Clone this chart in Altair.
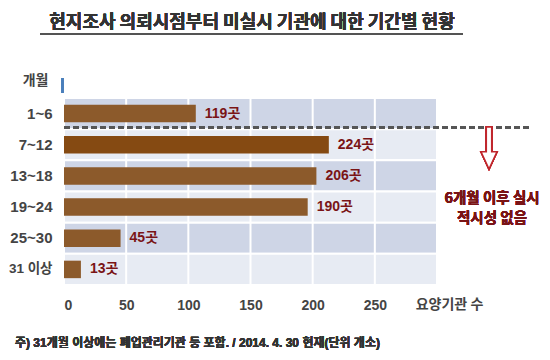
import altair as alt
import pandas as pd

# --- data ---
categories = ["1~6", "7~12", "13~18", "19~24", "25~30", "31 이상"]
counts = [119, 224, 206, 190, 45, 13]            # printed labels
bar_lengths = [106, 213, 203, 196, 45.5, 13.6]   # bar ends as drawn in the picture
bar_colors = ["#8c5a2b", "#854a12", "#8c5a2b", "#8c5a2b", "#8c5a2b", "#8c5a2b"]
band_colors = ["#ced5e6", "#e7ebf3", "#ced5e6", "#e7ebf3", "#ced5e6", "#e7ebf3"]
x_ticks = [0, 50, 100, 150, 200, 250]
grid_values = [50, 100, 150, 200, 250]
x_max = 300

title_text = "현지조사 의뢰시점부터 미실시 기관에 대한 기간별 현황"
note_text = "주) 31개월 이상에는 폐업관리기관 등 포함. / 2014. 4. 30 현재(단위 개소)"
annot_lines = ["6개월 이후 실시", "적시성 없음"]

df = pd.DataFrame({
    "cat": categories,
    "len": bar_lengths,
    "label": [f"{c}곳" for c in counts],
    "bar_color": bar_colors,
    "band_color": band_colors,
    "x0": [0] * 6,
    "x1": [x_max] * 6,
})
grid_df = pd.DataFrame({"g": grid_values})

LAT = "Liberation Sans, Noto Sans CJK KR, sans-serif"
CJK = "Noto Sans CJK KR, Liberation Sans, sans-serif"

xscale = alt.Scale(domain=[0, x_max], nice=False, zero=True)
yscale = alt.Scale(domain=categories, paddingInner=0, paddingOuter=0)

x_axis = alt.Axis(values=x_ticks, grid=False, domain=False, ticks=False, tickSize=0,
                  labelFont=LAT, labelFontSize=14, labelFontWeight="bold",
                  labelColor="#444444", labelBaseline="middle", labelPadding=20,
                  title="요양기관 수", titleFont=CJK, titleFontSize=14,
                  titleFontWeight="bold", titleColor="#444444",
                  titleX=385, titleY=19, titleBaseline="middle", titleAlign="center")
y_axis = alt.Axis(grid=False, domain=False, ticks=False, tickSize=0,
                  labelFont=LAT,
                  labelFontSize={"condition": {"test": "datum.value == '31 이상'", "value": 13.5},
                                 "value": 15},
                  labelFontWeight="bold",
                  labelColor="#444444", labelPadding=12,
                  title="개월", titleFont=CJK, titleFontSize=14, titleFontWeight="bold",
                  titleColor="#444444", titleAngle=0, titleX=-29, titleY=-18,
                  titleAlign="center", titleBaseline="middle")

base = alt.Chart(df)

bands = base.mark_rect(stroke="white", strokeWidth=2).encode(
    y=alt.Y("cat:N", scale=yscale, axis=y_axis, sort=categories),
    x=alt.X("x0:Q", scale=xscale, axis=x_axis),
    x2="x1:Q",
    color=alt.Color("band_color:N", scale=None),
)

grid = alt.Chart(grid_df).mark_rule(color="white", strokeWidth=2).encode(
    x=alt.X("g:Q", scale=xscale),
)

bars = base.mark_bar(size=17.5).encode(
    y=alt.Y("cat:N", scale=yscale, sort=categories),
    x=alt.X("len:Q", scale=xscale),
    color=alt.Color("bar_color:N", scale=None),
)

labels = base.mark_text(align="left", baseline="middle", dx=9, font=LAT,
                        fontSize=14, fontWeight="bold", color="#7a1416").encode(
    y=alt.Y("cat:N", scale=yscale, sort=categories),
    x=alt.X("len:Q", scale=xscale),
    text="label:N",
)

dashed = base.mark_rule(color="#555555", strokeWidth=2, strokeDash=[6, 3]).encode(
    x=alt.value(0), x2=alt.value(466), y=alt.value(29.5),
)

blue_tick = base.mark_rule(color="#4a7ebb", strokeWidth=2).encode(
    x=alt.value(-1.5), y=alt.value(-20), y2=alt.value(-5),
)

arrow_path = ("M -0.13 -1 L 0.13 -1 L 0.13 0.18 L 0.38 0.18 L 0 1 "
              "L -0.38 0.18 L -0.13 0.18 Z")
arrow = base.mark_point(shape=arrow_path, size=1764, filled=False, fill="white",
                        fillOpacity=1, stroke="#c0272d", strokeWidth=1.6,
                        opacity=1).encode(
    x=alt.value(425), y=alt.value(50),
)

annot = base.mark_text(align="center", baseline="middle", font=CJK, fontSize=14.5,
                       fontWeight="bold", color="#7a1416", lineHeight=20,
                       text=annot_lines).encode(
    x=alt.value(428), y=alt.value(101),
)

title = base.mark_text(align="center", baseline="middle", font=CJK, fontSize=18,
                       fontWeight="bold", color="#333333", text=title_text).encode(
    x=alt.value(188), y=alt.value(-75),
)
underline = base.mark_rule(color="#555555", strokeWidth=1.5).encode(
    x=alt.value(-24), x2=alt.value(399), y=alt.value(-64),
)

note = base.mark_text(align="left", baseline="middle", font=LAT, fontSize=12,
                      fontWeight="bold", color="#333333", text=note_text).encode(
    x=alt.value(-49), y=alt.value(245),
)

chart = alt.layer(
    bands, grid, bars, labels, dashed, blue_tick, arrow, annot, title, underline, note
).properties(
    width=373, height=187,
    autosize=alt.AutoSizeParams(type="none"),
    padding={"left": 56, "top": 90, "right": 105, "bottom": 67},
).configure_view(stroke=None).configure(background="white")

chart.save("out.html", embed_options={"renderer": "svg", "actions": False})
